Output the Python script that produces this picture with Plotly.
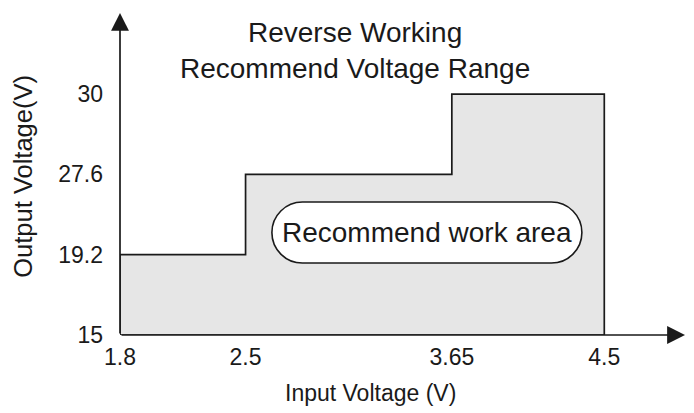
import plotly.graph_objects as go

# ---- data ----
input_voltage = [1.8, 2.5, 3.65, 4.5]          # x breakpoints (V)
output_levels = [15, 19.2, 27.6, 30]           # y tick labels (V)
band_max_output = [19.2, 27.6, 30]             # max output for each input band
title_text = "Reverse Working<br>Recommend Voltage Range"
area_label = "Recommend work area"
x_title = "Input Voltage (V)"
y_title = "Output Voltage(V)"

FONT = "Arial, 'Liberation Sans', sans-serif"
INK = "#1a1a1a"

# y levels are drawn evenly spaced (schematic), map value -> level index
level_pos = {v: i for i, v in enumerate(output_levels)}
base = level_pos[output_levels[0]]

xs = [input_voltage[0]]
ys = [base]
for i, top in enumerate(band_max_output):
    xs += [input_voltage[i], input_voltage[i + 1]]
    ys += [level_pos[top], level_pos[top]]
xs.append(input_voltage[-1])
ys.append(base)
xs.append(input_voltage[0])
ys.append(base)

x_end = 4.95
y_end = 4.01

fig = go.Figure()
fig.add_trace(go.Scatter(
    x=xs, y=ys, mode="lines", fill="toself",
    fillcolor="#e6e6e6", line=dict(color=INK, width=1.7),
    hoverinfo="skip", showlegend=False,
))

# rounded "stadium" label box
w, h = 155, 30.5
k = 0.5523 * h
s = w - h
path = (f"M{-s},{-h} L{s},{-h} C{s + k},{-h} {w},{-k} {w},0 "
        f"C{w},{k} {s + k},{h} {s},{h} L{-s},{h} "
        f"C{-s - k},{h} {-w},{k} {-w},0 C{-w},{-k} {-s - k},{-h} {-s},{-h} Z")
box_x = 3.511
box_y = 1.276
fig.add_shape(type="path", xref="x", yref="y", xsizemode="pixel", ysizemode="pixel",
              xanchor=box_x, yanchor=box_y, path=path,
              fillcolor="white", line=dict(color=INK, width=1.6), layer="above")
fig.add_annotation(x=box_x, y=box_y, xref="x", yref="y", text=area_label,
                   showarrow=False, font=dict(family=FONT, size=28, color=INK))

# axis arrows
fig.add_annotation(x=x_end, y=0, ax=input_voltage[0], ay=0, xref="x", yref="y",
                   axref="x", ayref="y", text="", showarrow=True, arrowhead=2,
                   arrowsize=2.1, arrowwidth=1.7, arrowcolor=INK, standoff=0)
fig.add_annotation(x=input_voltage[0], y=y_end, ax=input_voltage[0], ay=0, xref="x", yref="y",
                   axref="x", ayref="y", text="", showarrow=True, arrowhead=2,
                   arrowsize=2.1, arrowwidth=1.7, arrowcolor=INK, standoff=0)

# titles
fig.add_annotation(x=0.416, y=0.885, xref="paper", yref="paper", text=title_text,
                   showarrow=False, xanchor="center", yanchor="middle",
                   font=dict(family=FONT, size=28, color=INK))
fig.add_annotation(x=0.444, y=-0.18, xref="paper", yref="paper", text=x_title,
                   showarrow=False, xanchor="center", yanchor="middle",
                   font=dict(family=FONT, size=23, color=INK))
fig.add_annotation(x=-0.172, y=0.494, xref="paper", yref="paper", text=y_title,
                   showarrow=False, xanchor="center", yanchor="middle", textangle=-90,
                   font=dict(family=FONT, size=25.5, color=INK))

fig.update_xaxes(range=[input_voltage[0], x_end], tickvals=input_voltage,
                 ticktext=[str(v) for v in input_voltage],
                 showgrid=False, zeroline=False, showline=False, ticks="",
                 ticklabelstandoff=6, tickfont=dict(family=FONT, size=23, color=INK))
fig.update_yaxes(range=[0, y_end], tickvals=list(range(len(output_levels))),
                 ticktext=[str(v) for v in output_levels],
                 showgrid=False, zeroline=False, showline=False, ticks="",
                 ticklabelstandoff=16, tickfont=dict(family=FONT, size=23, color=INK))

fig.update_layout(width=694, height=413, margin=dict(l=120, r=9, t=13, b=78),
                  plot_bgcolor="white", paper_bgcolor="white",
                  font=dict(family=FONT, color=INK))

fig.write_html("out.html", config={"displayModeBar": False},
               post_script="document.body.style.margin='0';")
